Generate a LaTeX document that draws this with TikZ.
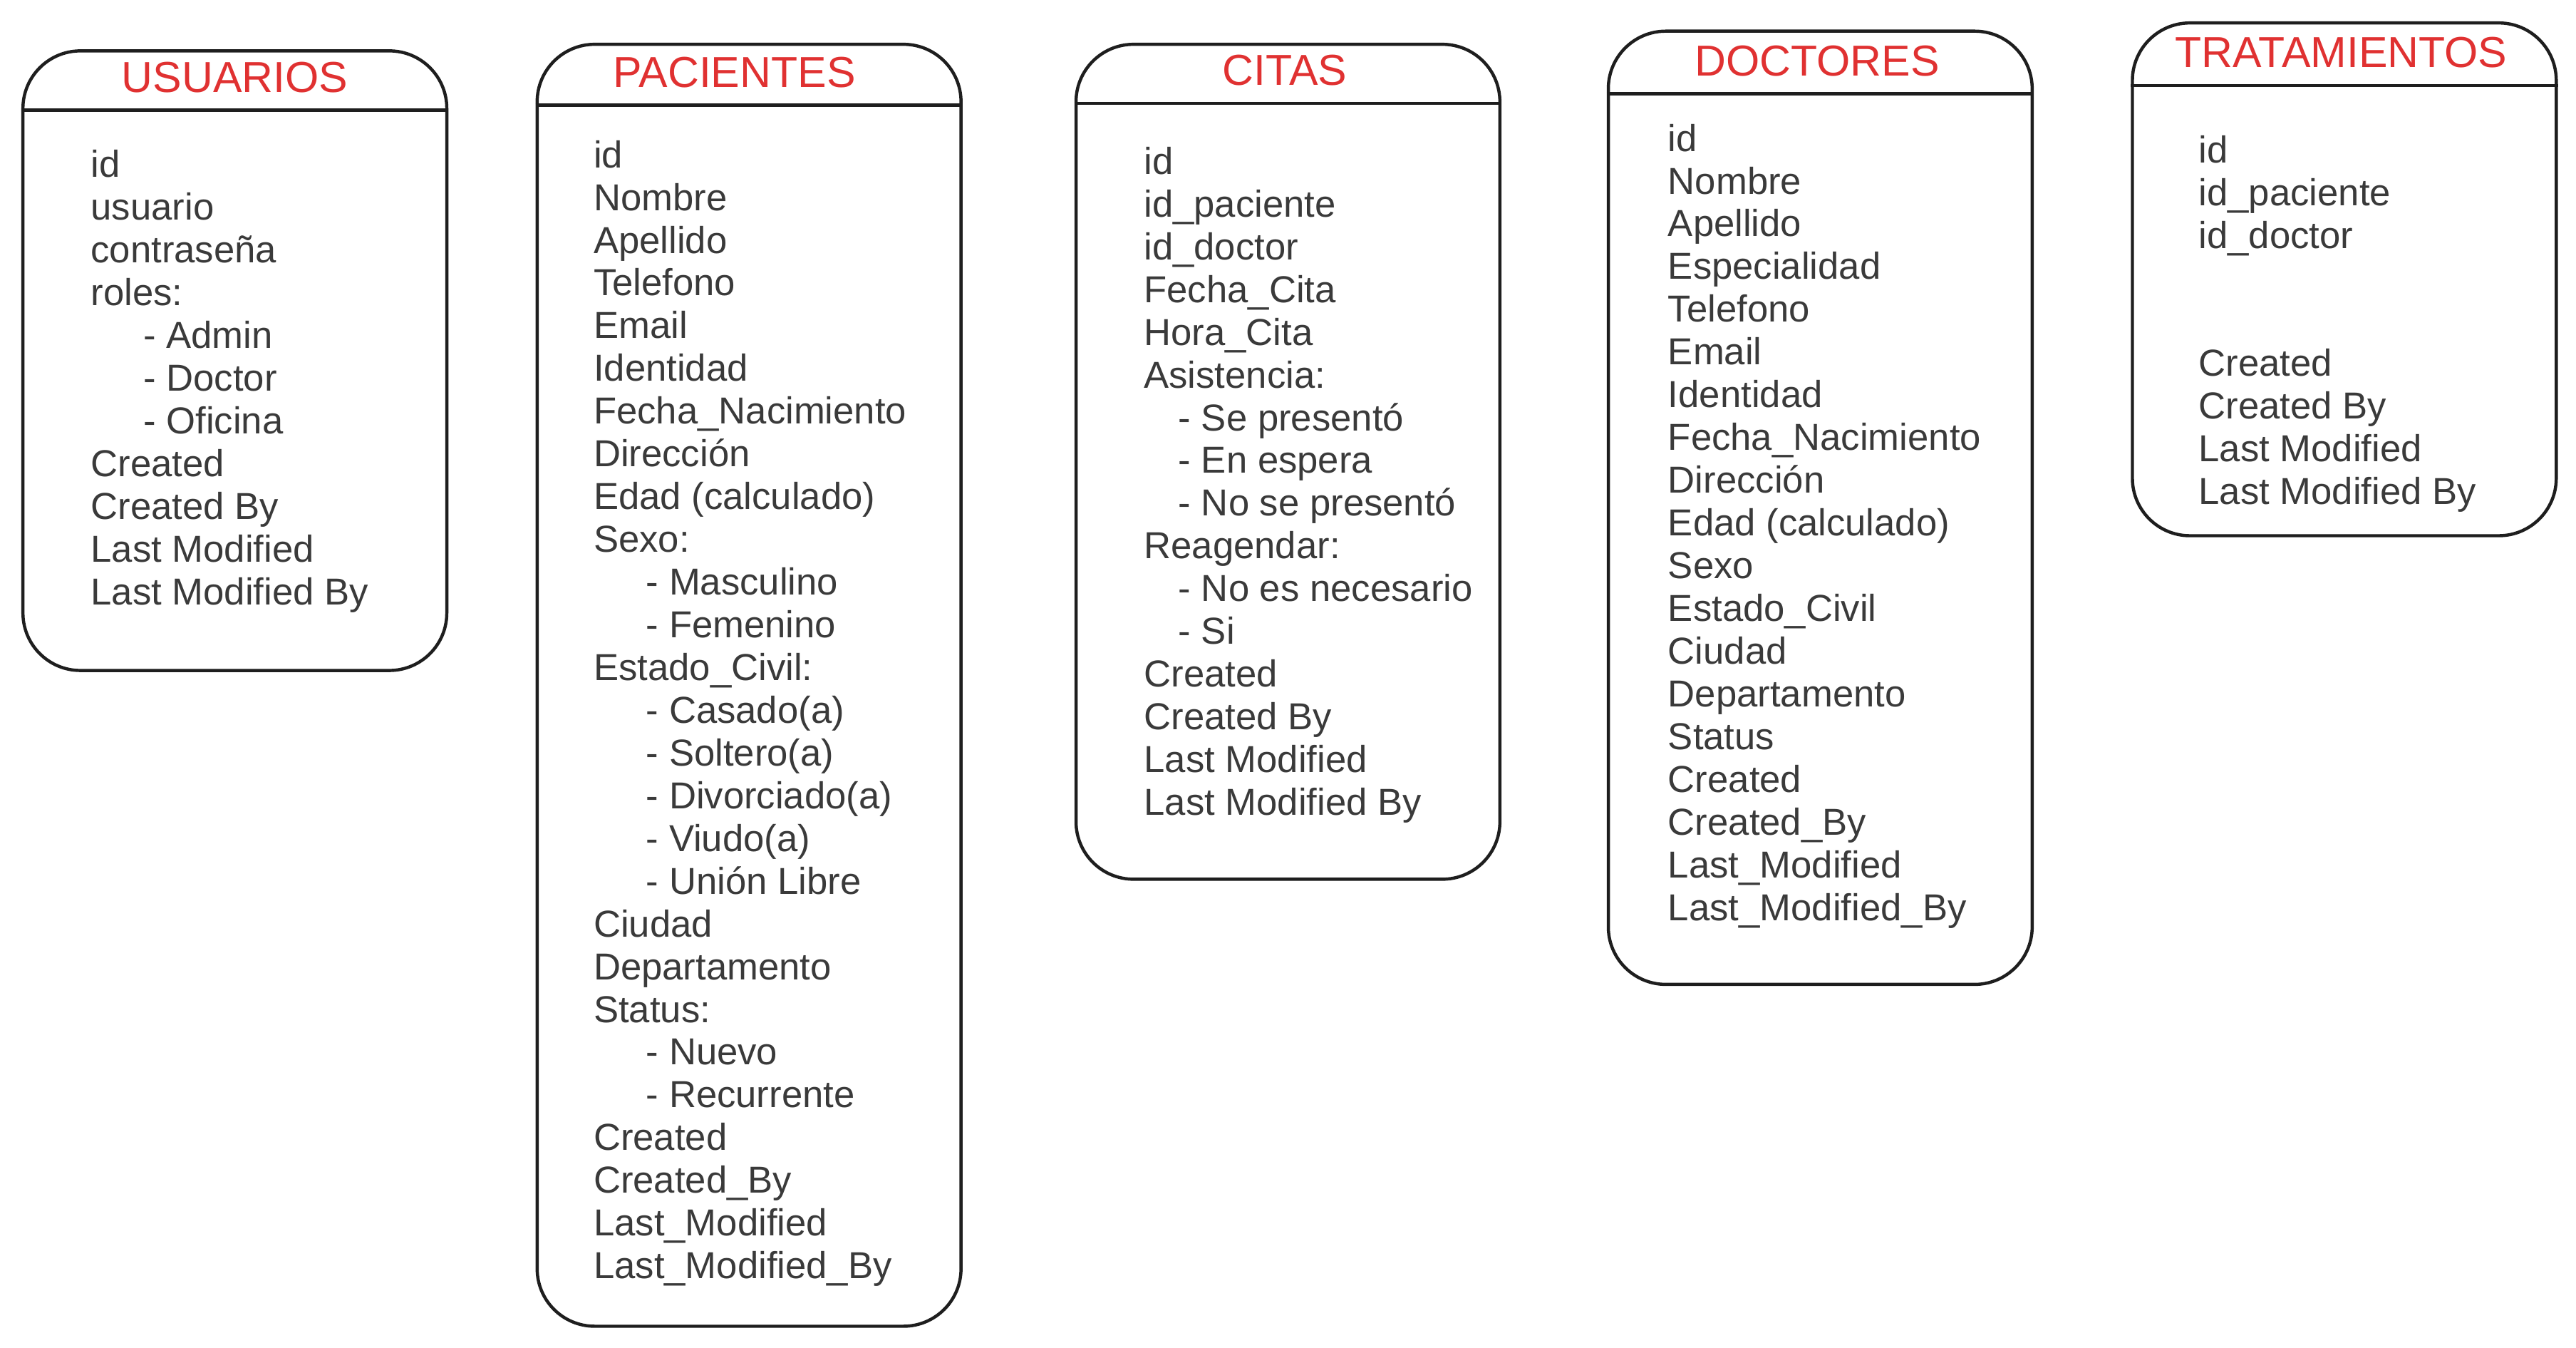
\documentclass[tikz,border=0pt]{standalone}
\usepackage{fontspec}
\setmainfont{Liberation Sans}
\definecolor{titulo}{HTML}{E03131}
\definecolor{trazo}{HTML}{1E1E1E}
\definecolor{texto}{HTML}{3A3A3A}
\newcommand{\opc}{\hspace*{6.4mm}- }
\newcommand{\opcc}{\hspace*{4.2mm}- }
\tikzset{
  tabla/.style={draw=trazo, line width=1.1pt, rounded corners=7mm, anchor=north west, minimum width=51.6mm, inner sep=0pt},
  cabecera/.style={text=titulo, font=\fontsize{15}{18}\selectfont, anchor=base},
  campo/.style={text=texto, font=\fontsize{13}{16}\selectfont, anchor=base west, inner sep=0pt},
  raya/.style={draw=trazo, line width=1.1pt}
}

\begin{document}
\begin{tikzpicture}[x=0.2mm, y=-0.2mm]
\useasboundingbox (0,0) rectangle (1568,820);

\node[tabla, minimum height=75.4mm] (usuarios) at (13,30) {};
\node[cabecera] (usuarios-t) at (143,56) {USUARIOS};
\draw[raya] (usuarios.west |- 0,67) -- (usuarios.east |- 0,67);
\foreach \f [count=\i from 0] in {id, usuario, contraseña, roles:, \opc Admin, \opc Doctor, \opc Oficina, Created, Created By, Last Modified, Last Modified By}
  \node[campo] (usuarios-\i) at (55,108+26*\i) {\f};

\node[tabla, minimum height=156mm] (pacientes) at (326,26) {};
\node[cabecera] (pacientes-t) at (447,53) {PACIENTES};
\draw[raya] (pacientes.west |- 0,64) -- (pacientes.east |- 0,64);
\foreach \f [count=\i from 0] in {id, Nombre, Apellido, Telefono, Email, Identidad, Fecha\_Nacimiento, Dirección, Edad (calculado), Sexo:, \opc Masculino, \opc Femenino, Estado\_Civil:, \opc Casado(a), \opc Soltero(a), \opc Divorciado(a), \opc Viudo(a), \opc Unión Libre, Ciudad, Departamento, Status:, \opc Nuevo, \opc Recurrente, Created, Created\_By, Last\_Modified, Last\_Modified\_By}
  \node[campo] (pacientes-\i) at (361,102+26*\i) {\f};

\node[tabla, minimum height=101.6mm] (citas) at (654,26) {};
\node[cabecera] (citas-t) at (782,52) {CITAS};
\draw[raya] (citas.west |- 0,63) -- (citas.east |- 0,63);
\foreach \f [count=\i from 0] in {id, id\_paciente, id\_doctor, Fecha\_Cita, Hora\_Cita, Asistencia:, \opcc Se presentó, \opcc En espera, \opcc No se presentó, Reagendar:, \opcc No es necesario, \opcc Si, Created, Created By, Last Modified, Last Modified By}
  \node[campo] (citas-\i) at (696,106+26*\i) {\f};

\node[tabla, minimum height=116mm] (doctores) at (978,18) {};
\node[cabecera] (doctores-t) at (1106,46) {DOCTORES};
\draw[raya] (doctores.west |- 0,57) -- (doctores.east |- 0,57);
\foreach \f [count=\i from 0] in {id, Nombre, Apellido, Especialidad, Telefono, Email, Identidad, Fecha\_Nacimiento, Dirección, Edad (calculado), Sexo, Estado\_Civil, Ciudad, Departamento, Status, Created, Created\_By, Last\_Modified, Last\_Modified\_By}
  \node[campo] (doctores-\i) at (1015,92+26*\i) {\f};

\node[tabla, minimum height=62.4mm] (tratamientos) at (1297,13) {};
\node[cabecera] (tratamientos-t) at (1425,41) {TRATAMIENTOS};
\draw[raya] (tratamientos.west |- 0,52) -- (tratamientos.east |- 0,52);
\foreach \f [count=\i from 0] in {id, id\_paciente, id\_doctor}
  \node[campo] (tratamientos-\i) at (1338,99+26*\i) {\f};
\foreach \f [count=\i from 5] in {Created, Created By, Last Modified, Last Modified By}
  \node[campo] (tratamientos-\i) at (1338,99+26*\i) {\f};
\end{tikzpicture}
\end{document}
